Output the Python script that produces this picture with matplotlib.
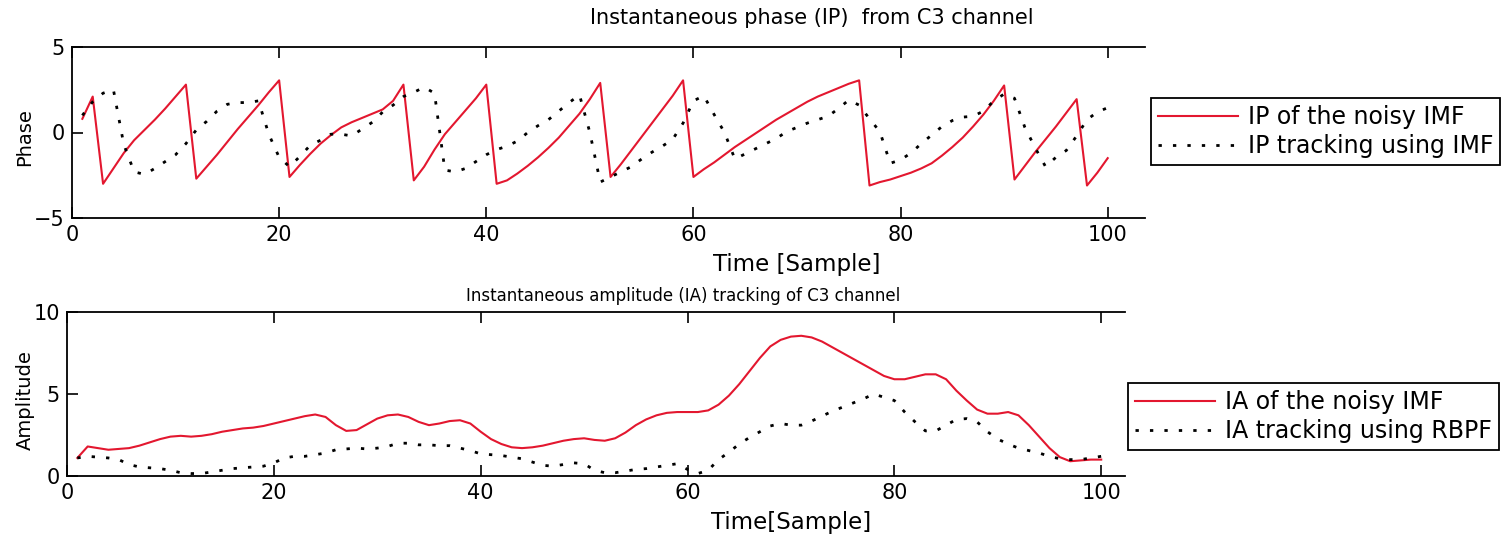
import numpy as np
import matplotlib.pyplot as plt

# samples 1..100
samples = np.arange(1, 101)

# instantaneous phase of the noisy IMF (red) and the tracked phase (black dotted)
ip_noisy = [0.8, 2.1, -3.0, -2.1, -1.2, -0.45, 0.15, 0.75, 1.4, 2.1,
            2.8, -2.7, -2.0, -1.3, -0.55, 0.2, 0.9, 1.6, 2.35, 3.05,
            -2.6, -1.9, -1.25, -0.65, -0.15, 0.3, 0.6, 0.85, 1.1, 1.35,
            1.85, 2.8, -2.8, -2.0, -1.0, -0.1, 0.6, 1.3, 2.0, 2.8,
            -3.0, -2.8, -2.4, -1.95, -1.45, -0.9, -0.3, 0.4, 1.1, 1.95,
            2.9, -2.6, -1.85, -1.05, -0.25, 0.55, 1.35, 2.15, 3.05, -2.6,
            -2.15, -1.75, -1.3, -0.85, -0.45, -0.05, 0.35, 0.75, 1.1, 1.45,
            1.8, 2.1, 2.35, 2.6, 2.85, 3.05, -3.1, -2.9, -2.75, -2.55,
            -2.35, -2.1, -1.8, -1.35, -0.85, -0.3, 0.35, 1.05, 1.85, 2.75,
            -2.75, -1.95, -1.15, -0.4, 0.35, 1.15, 1.95, -3.1, -2.35, -1.5]

ip_track = [1.0, 1.8, 2.3, 2.5, -0.7, -2.3, -2.45, -2.1, -1.7, -1.3,
            -0.65, 0.15, 0.65, 1.25, 1.65, 1.75, 1.75, 1.85, -0.1, -1.45,
            -2.0, -1.4, -0.75, -0.45, -0.1, -0.1, -0.2, 0.2, 0.6, 1.2,
            1.6, 2.1, 2.35, 2.65, 2.3, -2.2, -2.3, -2.1, -1.7, -1.3,
            -1.0, -0.8, -0.5, 0.0, 0.4, 0.75, 1.25, 1.75, 2.2, 0.0,
            -2.9, -2.6, -2.3, -2.0, -1.55, -1.15, -0.8, -0.4, 0.55, 1.85,
            2.15, 1.05, 0.0, -1.55, -1.25, -0.95, -0.65, -0.35, 0.05, 0.3,
            0.55, 0.75, 0.95, 1.4, 1.9, 1.6, 0.8, 0.05, -1.8, -1.6,
            -1.2, -0.65, -0.15, 0.35, 0.7, 0.9, 0.95, 1.25, 1.85, 2.25,
            2.0, 0.3, -0.9, -2.0, -1.45, -1.05, -0.2, 0.75, 1.2, 1.45]

# instantaneous amplitude of the noisy IMF (red) and RBPF tracking (black dotted)
ia_noisy = [1.1, 1.8, 1.7, 1.6, 1.65, 1.7, 1.85, 2.05, 2.25, 2.4,
            2.45, 2.4, 2.45, 2.55, 2.7, 2.8, 2.9, 2.95, 3.05, 3.2,
            3.35, 3.5, 3.65, 3.75, 3.6, 3.1, 2.75, 2.8, 3.15, 3.5,
            3.7, 3.75, 3.6, 3.3, 3.1, 3.2, 3.35, 3.4, 3.2, 2.7,
            2.25, 1.95, 1.75, 1.7, 1.75, 1.85, 2.0, 2.15, 2.25, 2.3,
            2.2, 2.15, 2.3, 2.65, 3.1, 3.45, 3.7, 3.85, 3.9, 3.9,
            3.9, 4.0, 4.35, 4.9, 5.6, 6.4, 7.2, 7.9, 8.3, 8.5,
            8.55, 8.45, 8.2, 7.85, 7.5, 7.15, 6.8, 6.45, 6.1, 5.9,
            5.9, 6.05, 6.2, 6.2, 5.9, 5.2, 4.6, 4.05, 3.8, 3.8,
            3.9, 3.7, 3.1, 2.4, 1.7, 1.15, 0.9, 0.95, 1.0, 1.0]

ia_track = [1.1, 1.2, 1.15, 1.1, 1.0, 0.7, 0.55, 0.5, 0.45, 0.35,
            0.2, 0.15, 0.15, 0.25, 0.35, 0.45, 0.5, 0.55, 0.6, 0.8,
            1.1, 1.2, 1.2, 1.3, 1.4, 1.6, 1.65, 1.7, 1.65, 1.7,
            1.8, 2.0, 2.0, 1.9, 1.9, 1.85, 1.85, 1.7, 1.55, 1.35,
            1.3, 1.25, 1.15, 1.05, 0.85, 0.65, 0.6, 0.7, 0.8, 0.75,
            0.35, 0.2, 0.2, 0.3, 0.4, 0.45, 0.55, 0.65, 0.75, 0.4,
            0.15, 0.35, 1.0, 1.45, 1.95, 2.35, 2.7, 3.05, 3.2, 3.1,
            3.1, 3.35, 3.65, 3.95, 4.2, 4.45, 4.7, 5.0, 4.8, 4.6,
            3.9, 3.3, 2.75, 2.75, 3.1, 3.45, 3.5, 3.3, 2.7, 2.25,
            1.95, 1.7, 1.55, 1.4, 1.2, 1.05, 1.0, 1.0, 1.1, 1.2]

W, H = 1504, 537
red = '#e3172f'
dots = (0, (1.2, 4))

fig = plt.figure(figsize=(W / 100, H / 100), dpi=100)

# axes placed in pixel terms of the reference
ax1 = fig.add_axes([72 / W, 1 - 218 / H, (1145 - 72) / W, (218 - 47) / H])
ax2 = fig.add_axes([67 / W, 1 - 476 / H, (1125 - 67) / W, (476 - 312) / H])

# top: instantaneous phase
ax1.plot(samples, ip_noisy, color=red, lw=1.5, label='IP of the noisy IMF')
ax1.plot(samples, ip_track, color='k', lw=2, linestyle=dots, label='IP tracking using IMF')
ax1.set_xlim(0, 103.6)
ax1.set_ylim(-5, 5)
ax1.set_xticks([0, 20, 40, 60, 80, 100])
ax1.set_yticks([-5, 0, 5])

# bottom: instantaneous amplitude
ax2.plot(samples, ia_noisy, color=red, lw=1.5, label='IA of the noisy IMF')
ax2.plot(samples, ia_track, color='k', lw=2, linestyle=dots, label='IA tracking using RBPF')
ax2.set_xlim(0, 102.3)
ax2.set_ylim(0, 10)
ax2.set_xticks([0, 20, 40, 60, 80, 100])
ax2.set_yticks([0, 5, 10])

for ax in (ax1, ax2):
    ax.tick_params(direction='in', top=True, right=False, length=8, width=1.2,
                   labelsize=15, pad=5)
    ax.spines['right'].set_visible(False)
    for s in ('left', 'top', 'bottom'):
        ax.spines[s].set_linewidth(1.3)

leg_kw = dict(loc='upper left', bbox_transform=fig.transFigure, borderaxespad=0,
              fancybox=False, edgecolor='k', framealpha=1, fontsize=17,
              handlelength=3.4, handletextpad=0.4, borderpad=0.3, labelspacing=0.2)
l1 = ax1.legend(bbox_to_anchor=(1151 / W, 1 - 98 / H), **leg_kw)
l2 = ax2.legend(bbox_to_anchor=(1128 / W, 1 - 383 / H), **leg_kw)
for l in (l1, l2):
    l.get_frame().set_linewidth(1.3)

# titles and labels
fig.text(812 / W, 1 - 18 / H, 'Instantaneous phase (IP)  from C3 channel',
         ha='center', va='center', fontsize=15)
fig.text(683 / W, 1 - 296 / H, 'Instantaneous amplitude (IA) tracking of C3 channel',
         ha='center', va='center', fontsize=12)
fig.text(797 / W, 1 - 265 / H, 'Time [Sample]', ha='center', va='center', fontsize=16.5)
fig.text(791 / W, 1 - 522 / H, 'Time[Sample]', ha='center', va='center', fontsize=16.5)
fig.text(25 / W, 1 - 137 / H, 'Phase', ha='center', va='center', rotation=90, fontsize=14)
fig.text(25 / W, 1 - 400 / H, 'Amplitude', ha='center', va='center', rotation=90, fontsize=14)

fig.savefig('out.png', dpi=100)
